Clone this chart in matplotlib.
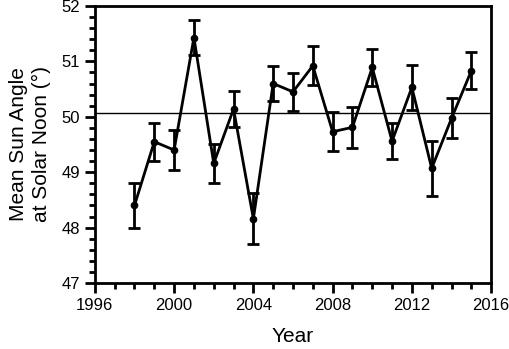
import matplotlib.pyplot as plt
import numpy as np

# Year series, mean sun angle and error bars
years = np.arange(1998, 2016)
mean_angle = [48.40, 49.55, 49.40, 51.43, 49.16, 50.14, 48.16, 50.60, 50.45,
              50.92, 49.73, 49.81, 50.89, 49.56, 50.53, 49.07, 49.97, 50.83]
err_angle = [0.40, 0.34, 0.36, 0.31, 0.35, 0.33, 0.46, 0.32, 0.34,
             0.35, 0.35, 0.37, 0.33, 0.33, 0.40, 0.50, 0.36, 0.33]
overall_mean = 50.07

plt.rcParams['font.family'] = ['Liberation Sans', 'DejaVu Sans']

fig = plt.figure(figsize=(5.10, 3.49), dpi=100)
ax = fig.add_axes([0.186, 0.189, 0.777, 0.794])

ax.axhline(overall_mean, color='black', linewidth=1)
ax.errorbar(years, mean_angle, yerr=err_angle, color='black', linewidth=2,
            marker='o', markersize=4.5, elinewidth=2, capsize=4.5, capthick=2)

ax.set_xlim(1996, 2016)
ax.set_ylim(47, 52)
ax.set_xticks(np.arange(1996, 2017, 4))
ax.set_xticks(np.arange(1996, 2017, 1), minor=True)
ax.set_yticks(np.arange(47, 53, 1))
ax.set_yticks(np.arange(47, 52.01, 0.2), minor=True)
ax.tick_params(which='major', direction='out', length=7, width=2, labelsize=12)
ax.tick_params(which='minor', direction='out', length=4, width=2)
for s in ax.spines.values():
    s.set_linewidth(2)

ax.set_xlabel('Year', fontsize=15, labelpad=10)
ax.set_ylabel('Mean Sun Angle\nat Solar Noon (°)', fontsize=15, labelpad=8)

fig.savefig('out.png', dpi=100)
